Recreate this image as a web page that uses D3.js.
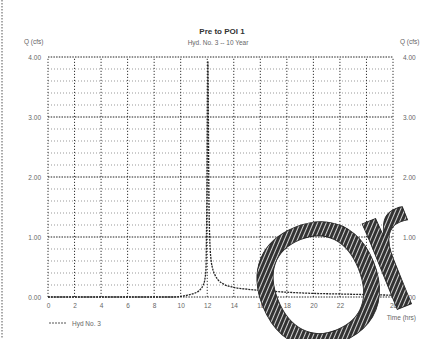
<!DOCTYPE html>
<html>
<head>
<meta charset="utf-8">
<script src="https://cdn.jsdelivr.net/npm/d3@7"></script>
<style>
  body { margin: 0; background: #fff; }
  svg { display: block; font-family: "Liberation Sans", Arial, sans-serif; }
  .lbl { fill: #666; font-size: 6.5px; }
</style>
</head>
<body>
<svg id="chart" width="425" height="339"></svg>
<script>
// hydrograph
const timeHrs = [0, 9.5, 10, 10.5, 11, 11.3, 11.5, 11.7, 11.8, 11.9, 11.97, 12.05, 12.13, 12.2, 12.3, 12.4, 12.6, 12.8, 13.2, 14, 15, 16, 18, 20, 22, 24, 26];
const flowCfs = [0, 0, 0.01, 0.03, 0.06, 0.09, 0.13, 0.2, 0.27, 0.45, 1.6, 3.93, 1.6, 0.9, 0.6, 0.48, 0.36, 0.29, 0.22, 0.16, 0.13, 0.11, 0.08, 0.06, 0.05, 0.04, 0.03];
const xTicks = [0, 2, 4, 6, 8, 10, 12, 14, 16, 18, 20, 22, 24, 26];
const yTicks = [0, 1, 2, 3, 4];
const yMinor = d3.range(0, 4.001, 0.2);

const margin = { left: 48, right: 32, top: 57, bottom: 42 };
const W = 425, H = 339;

const svg = d3.select("#chart");

const x = d3.scaleLinear().domain([0, 26]).range([margin.left, W - margin.right]);
const y = d3.scaleLinear().domain([0, 4]).range([H - margin.bottom, margin.top]);

// page border on the far left
svg.append("line")
    .attr("x1", 2).attr("x2", 2).attr("y1", 0).attr("y2", H)
    .attr("stroke", "#555").attr("stroke-dasharray", "1.5,1.5");

// minor horizontal grid
svg.append("g").selectAll("line")
    .data(yMinor.filter(v => Math.abs(v - Math.round(v)) > 0.01))
    .join("line")
    .attr("x1", x(0)).attr("x2", x(26))
    .attr("y1", d => y(d)).attr("y2", d => y(d))
    .attr("stroke", "#999").attr("stroke-dasharray", "1,2");

// vertical grid
svg.append("g").selectAll("line")
    .data(xTicks)
    .join("line")
    .attr("x1", d => x(d)).attr("x2", d => x(d))
    .attr("y1", y(0)).attr("y2", y(4))
    .attr("stroke", "#333").attr("stroke-dasharray", "1.2,1.8");

// major horizontal grid
svg.append("g").selectAll("line")
    .data(yTicks)
    .join("line")
    .attr("x1", x(0)).attr("x2", x(26))
    .attr("y1", d => y(d)).attr("y2", d => y(d))
    .attr("stroke", "#222").attr("stroke-dasharray", "1.5,1.2");

// axes labels
const xAxis = d3.axisBottom(x).tickValues(xTicks).tickSize(0).tickPadding(6);
svg.append("g").attr("transform", `translate(0,${y(0)})`).call(xAxis)
    .call(g => g.select(".domain").remove())
    .selectAll("text").attr("class", "lbl").attr("font-family", null).attr("font-size", null).attr("fill", null);

const yLeft = d3.axisLeft(y).tickValues(yTicks).tickFormat(d3.format(".2f")).tickSize(0).tickPadding(7);
svg.append("g").attr("transform", `translate(${x(0)},0)`).call(yLeft)
    .call(g => g.select(".domain").remove())
    .selectAll("text").attr("class", "lbl").attr("font-family", null).attr("font-size", null).attr("fill", null);

const yRight = d3.axisRight(y).tickValues(yTicks).tickFormat(d3.format(".2f")).tickSize(0).tickPadding(10);
svg.append("g").attr("transform", `translate(${x(26)},0)`).call(yRight)
    .call(g => g.select(".domain").remove())
    .selectAll("text").attr("class", "lbl").attr("font-family", null).attr("font-size", null).attr("fill", null);

// hydrograph
const line = d3.line().x((d, i) => x(timeHrs[i])).y(d => y(d)).curve(d3.curveMonotoneX);
svg.append("path")
    .datum(flowCfs)
    .attr("d", line)
    .attr("fill", "none")
    .attr("stroke", "#222")
    .attr("stroke-width", 1.3)
    .attr("stroke-dasharray", "2,1");

// titles
svg.append("text").attr("x", 222).attr("y", 34).attr("text-anchor", "middle")
    .attr("font-size", 8).attr("font-weight", "bold").attr("fill", "#333").text("Pre to POI 1");
svg.append("text").attr("x", 218).attr("y", 45).attr("text-anchor", "middle")
    .attr("class", "lbl").text("Hyd. No. 3 -- 10 Year");
svg.append("text").attr("x", 24).attr("y", 44).attr("class", "lbl").text("Q (cfs)");
svg.append("text").attr("x", 400).attr("y", 44).attr("class", "lbl").text("Q (cfs)");
svg.append("text").attr("x", 416).attr("y", 320).attr("text-anchor", "end")
    .attr("class", "lbl").text("Time (hrs)");

// legend
svg.append("line").attr("x1", 49).attr("x2", 67).attr("y1", 323).attr("y2", 323)
    .attr("stroke", "#555").attr("stroke-dasharray", "2,1");
svg.append("text").attr("x", 72).attr("y", 325.5).attr("class", "lbl").text("Hyd No. 3");

// hatched watermark over the lower right
const defs = svg.append("defs");
const pat = defs.append("pattern").attr("id", "hatch")
    .attr("patternUnits", "userSpaceOnUse").attr("width", 4).attr("height", 4)
    .attr("patternTransform", "rotate(45)");
pat.append("rect").attr("width", 4).attr("height", 4).attr("fill", "#333");
pat.append("line").attr("x1", 0).attr("x2", 0).attr("y1", 0).attr("y2", 4)
    .attr("stroke", "#fff").attr("stroke-width", 1.6);

const mark = [
    { ch: "O", tx: 278, ty: 366 },
    { ch: "r", tx: 386, ty: 314 }
];
svg.append("g").selectAll("text")
    .data(mark)
    .join("text")
    .attr("transform", d => `translate(${d.tx},${d.ty}) rotate(-22)`)
    .attr("font-family", "Liberation Sans")
    .attr("font-size", 175)
    .attr("fill", "url(#hatch)")
    .attr("stroke", "#222").attr("stroke-width", 0.8)
    .text(d => d.ch);
</script>
</body>
</html>
